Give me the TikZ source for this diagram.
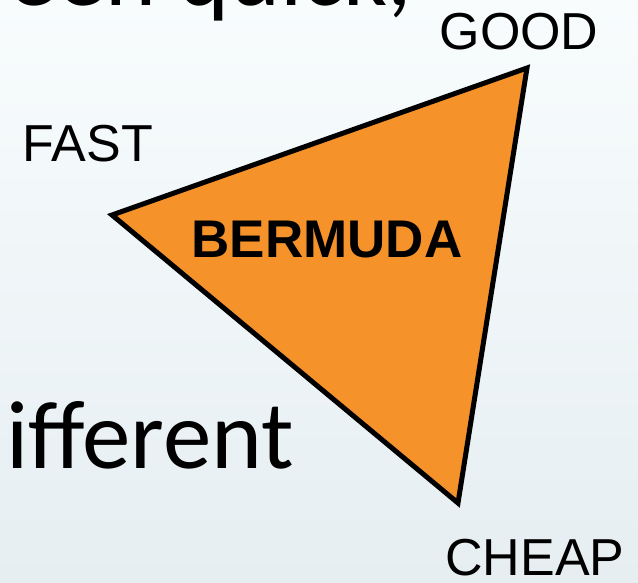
\documentclass[tikz,border=0pt]{standalone}
\usepackage{fontspec}
\setmainfont{Liberation Sans}
\newfontfamily\calfont{Carlito}
\definecolor{tri}{HTML}{F5922A}
\definecolor{bgtop}{HTML}{F8FCFD}
\definecolor{bgbot}{HTML}{E6EEF2}
\tikzset{
  lbl/.style={inner sep=0pt, font=\fontsize{52}{60}\selectfont},
  big/.style={inner sep=0pt, font=\calfont\fontsize{97}{105}\selectfont},
}
\begin{document}
\begin{tikzpicture}[x=1pt,y=-1pt]
\useasboundingbox (0,0) rectangle (638,583);
\clip (0,0) rectangle (638,583);
\shade[top color=bgtop, bottom color=bgbot] (0,0) rectangle (638,583);
\node[big, anchor=base east] (top) at (412,6) {ween quick,};
\node[big, anchor=base west] (diff) at (6,468) {ifferent};
\coordinate (F) at (112,215);
\coordinate (G) at (527,68);
\coordinate (C) at (458,503);
\filldraw[fill=tri, draw=black, line width=5pt, line join=miter] (F) -- (G) -- (C) -- cycle;
\node[lbl, font=\bfseries\fontsize{53}{60}\selectfont] (berm) at (327,240) {BERMUDA};
\node[lbl] (fast) at (88,144) {FAST};
\node[lbl] (good) at (519,32) {GOOD};
\node[lbl] (cheap) at (535,558) {CHEAP};
\end{tikzpicture}
\end{document}
